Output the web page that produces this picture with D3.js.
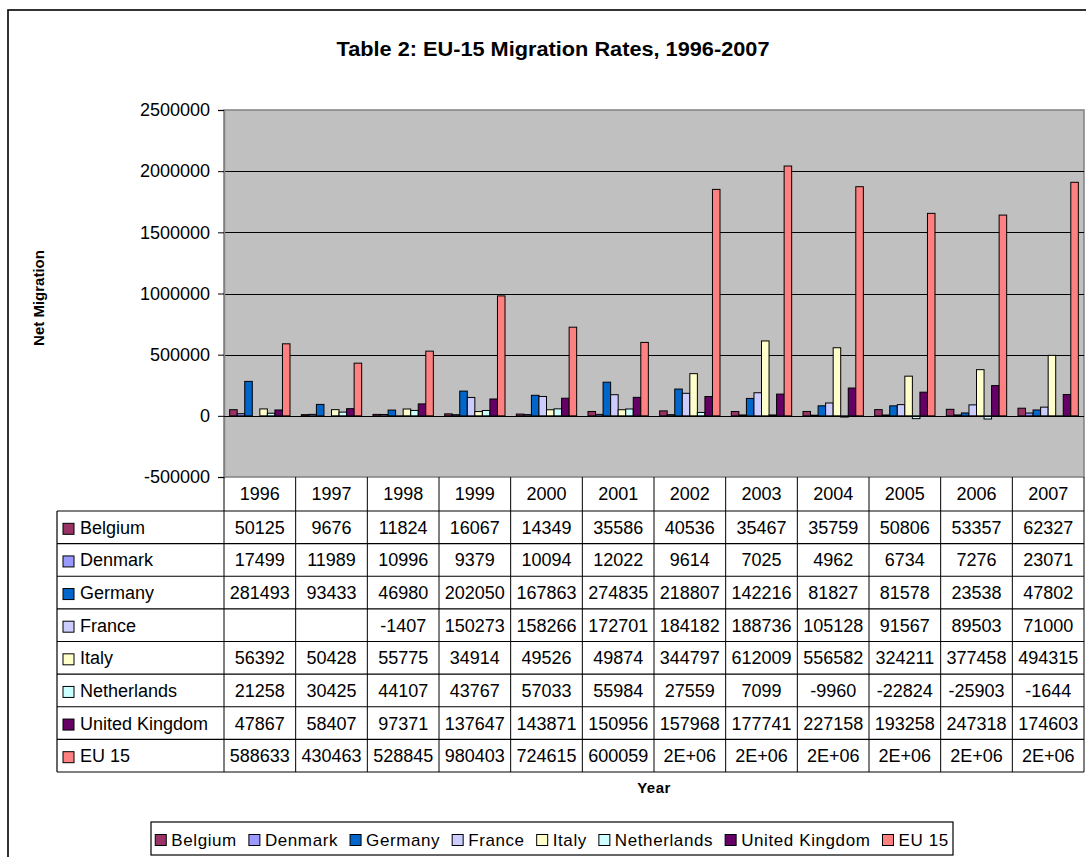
<!DOCTYPE html>
<html>
<head>
<meta charset="utf-8">
<script src="https://cdn.jsdelivr.net/npm/d3@7"></script>
<style>
  html, body { margin: 0; padding: 0; background: #fff; }
  svg { display: block; font-family: "Liberation Sans", Arial, sans-serif; }
</style>
</head>
<body>
<svg id="chart" width="1086" height="857"></svg>
<script>
// ---- Data ----
const years = ["1996","1997","1998","1999","2000","2001","2002","2003","2004","2005","2006","2007"];
const seriesNames = ["Belgium","Denmark","Germany","France","Italy","Netherlands","United Kingdom","EU 15"];
const belgium     = [50125, 9676, 11824, 16067, 14349, 35586, 40536, 35467, 35759, 50806, 53357, 62327];
const denmark     = [17499, 11989, 10996, 9379, 10094, 12022, 9614, 7025, 4962, 6734, 7276, 23071];
const germany     = [281493, 93433, 46980, 202050, 167863, 274835, 218807, 142216, 81827, 81578, 23538, 47802];
const france      = [null, null, -1407, 150273, 158266, 172701, 184182, 188736, 105128, 91567, 89503, 71000];
const italy       = [56392, 50428, 55775, 34914, 49526, 49874, 344797, 612009, 556582, 324211, 377458, 494315];
const netherlands = [21258, 30425, 44107, 43767, 57033, 55984, 27559, 7099, -9960, -22824, -25903, -1644];
const uk          = [47867, 58407, 97371, 137647, 143871, 150956, 157968, 177741, 227158, 193258, 247318, 174603];
const eu15        = [588633, 430463, 528845, 980403, 724615, 600059, 1851000, 2042000, 1873000, 1655000, 1641000, 1909000];
const yTicks = [-500000, 0, 500000, 1000000, 1500000, 2000000, 2500000];
const colors = ["#993366","#9999FF","#0066CC","#CCCCFF","#FFFFCC","#CCFFFF","#660066","#FF8080"];
const titleText = "Table 2: EU-15 Migration Rates, 1996-2007";
const yTitle = "Net Migration";
const xTitle = "Year";

const seriesValues = [belgium, denmark, germany, france, italy, netherlands, uk, eu15];
const series = seriesNames.map((name, i) => ({ name, color: colors[i], values: seriesValues[i] }));

// ---- Layout ----
const svg = d3.select("#chart");
const plot = { left: 224, right: 1084, top: 110, bottom: 477 };
const tableLeft = 57;
const headerBottom = 511;
const rowH = (772 - headerBottom) / series.length;
const FONT = 18;

// Outer frame
svg.append("rect").attr("x", 8).attr("y", 10).attr("width", 1200).attr("height", 1000)
  .attr("fill", "none").attr("stroke", "#000").attr("stroke-width", 1.6);

// Title
svg.append("text").attr("x", 553).attr("y", 56).attr("text-anchor", "middle")
  .attr("font-weight", "bold").attr("font-size", 20).attr("textLength", 433)
  .attr("lengthAdjust", "spacingAndGlyphs").text(titleText);

// Scales
const x = d3.scaleBand().domain(years).range([plot.left, plot.right]).padding(0);
const xs = d3.scaleBand().domain(seriesNames).range([0, x.bandwidth()]).paddingInner(0).paddingOuter(0.75);
const y = d3.scaleLinear().domain([-500000, 2500000]).range([plot.bottom, plot.top]);

// Plot background
svg.append("rect").attr("x", plot.left).attr("y", plot.top)
  .attr("width", plot.right - plot.left).attr("height", plot.bottom - plot.top)
  .attr("fill", "#C0C0C0").attr("stroke", "#808080").attr("stroke-width", 1.5);

// Gridlines
svg.append("g").selectAll("line").data(yTicks.filter(t => t > -500000 && t < 2500000)).join("line")
  .attr("x1", plot.left).attr("x2", plot.right)
  .attr("y1", d => Math.round(y(d)) + 0.5).attr("y2", d => Math.round(y(d)) + 0.5)
  .attr("stroke", "#000").attr("stroke-width", 1);

// Y axis
const yAxis = svg.append("g").attr("transform", `translate(${plot.left},0)`)
  .call(d3.axisLeft(y).tickValues(yTicks).tickSize(6).tickPadding(8).tickFormat(d => String(d)));
yAxis.select(".domain").attr("stroke", "#808080").attr("stroke-width", 1.5);
yAxis.selectAll(".tick line").attr("stroke", "#000");
yAxis.selectAll("text").attr("font-size", FONT).attr("font-family", "Liberation Sans, Arial, sans-serif").attr("fill", "#000");

// Y title
svg.append("text").attr("transform", "translate(44,298) rotate(-90)")
  .attr("text-anchor", "middle").attr("font-weight", "bold").attr("font-size", 15).text(yTitle);

// Bars
const bars = [];
series.forEach(s => s.values.forEach((v, i) => { if (v !== null) bars.push({ s, year: years[i], v }); }));
svg.append("g").selectAll("rect").data(bars).join("rect")
  .attr("x", d => x(d.year) + xs(d.s.name))
  .attr("width", xs.bandwidth())
  .attr("y", d => y(Math.max(0, d.v)))
  .attr("height", d => Math.abs(y(d.v) - y(0)))
  .attr("fill", d => d.s.color)
  .attr("stroke", "#000").attr("stroke-width", 1);

// Zero line on top
svg.append("line").attr("x1", plot.left).attr("x2", plot.right)
  .attr("y1", Math.round(y(0)) + 0.5).attr("y2", Math.round(y(0)) + 0.5).attr("stroke", "#000");

// ---- Data table ----
const fmt = v => {
  if (v === null) return "";
  if (Math.abs(v) >= 1e6) {
    const e = v.toExponential(0).toUpperCase(); // e.g. 2E+6
    return e.replace(/E([+-])(\d)$/, "E$10$2");
  }
  return String(v);
};
const tbl = svg.append("g");
tbl.selectAll("text.yr").data(years).join("text").attr("class", "yr")
  .attr("x", d => x(d) + x.bandwidth() / 2).attr("y", (plot.bottom + headerBottom) / 2)
  .attr("dy", "0.36em").attr("text-anchor", "middle").attr("font-size", FONT).text(d => d);
const hLines = d3.range(series.length + 1).map(i => headerBottom + i * rowH);
tbl.selectAll("line.h").data(hLines).join("line").attr("class", "h")
  .attr("x1", tableLeft).attr("x2", plot.right).attr("y1", d => d).attr("y2", d => d)
  .attr("stroke", "#000").attr("stroke-width", 1.2);
const vx = years.map(yr => x(yr)).concat([plot.right]);
tbl.selectAll("line.v").data(vx).join("line").attr("class", "v")
  .attr("x1", d => d).attr("x2", d => d).attr("y1", plot.bottom).attr("y2", headerBottom + series.length * rowH)
  .attr("stroke", "#000").attr("stroke-width", 1);
tbl.append("line").attr("x1", tableLeft).attr("x2", tableLeft)
  .attr("y1", headerBottom).attr("y2", headerBottom + series.length * rowH).attr("stroke", "#000").attr("stroke-width", 1.2);

const rows = tbl.selectAll("g.row").data(series).join("g").attr("class", "row")
  .attr("transform", (d, i) => `translate(0,${headerBottom + i * rowH + rowH / 2})`);
rows.append("rect").attr("x", 63).attr("y", -4).attr("width", 11).attr("height", 11)
  .attr("fill", d => d.color).attr("stroke", "#000").attr("stroke-width", 1);
rows.append("text").attr("x", 80).attr("dy", "0.36em").attr("font-size", FONT).text(d => d.name);
rows.selectAll("text.val").data(d => d.values.map((v, i) => ({ v, year: years[i] }))).join("text").attr("class", "val")
  .attr("x", d => x(d.year) + x.bandwidth() / 2).attr("dy", "0.36em").attr("text-anchor", "middle")
  .attr("font-size", FONT).text(d => fmt(d.v));

// X title
svg.append("text").attr("x", 654).attr("y", 793).attr("text-anchor", "middle")
  .attr("font-weight", "bold").attr("font-size", 15).attr("letter-spacing", 0.5).text(xTitle);

// ---- Legend ----
const legendBox = { x1: 151, x2: 953, y1: 822, y2: 855 };
svg.append("rect").attr("x", legendBox.x1).attr("y", legendBox.y1)
  .attr("width", legendBox.x2 - legendBox.x1).attr("height", legendBox.y2 - legendBox.y1)
  .attr("fill", "#fff").attr("stroke", "#000").attr("stroke-width", 1.2);
const lg = svg.append("g");
const items = lg.selectAll("g").data(series).join("g");
items.append("rect").attr("width", 11).attr("height", 11).attr("y", -5)
  .attr("fill", d => d.color).attr("stroke", "#000").attr("stroke-width", 1);
items.append("text").attr("x", 16).attr("dy", "0.36em").attr("font-size", 17).attr("letter-spacing", 0.6).text(d => d.name);
let cx = 0;
const gap = 12;
items.each(function () {
  const w = 16 + this.querySelector("text").getComputedTextLength();
  d3.select(this).attr("data-x", cx);
  cx += w + gap;
});
const total = cx - gap;
const startX = (legendBox.x1 + legendBox.x2) / 2 - total / 2;
items.attr("transform", function () {
  return `translate(${startX + (+this.getAttribute("data-x"))},${(legendBox.y1 + legendBox.y2) / 2 + 1})`;
});
</script>
</body>
</html>
